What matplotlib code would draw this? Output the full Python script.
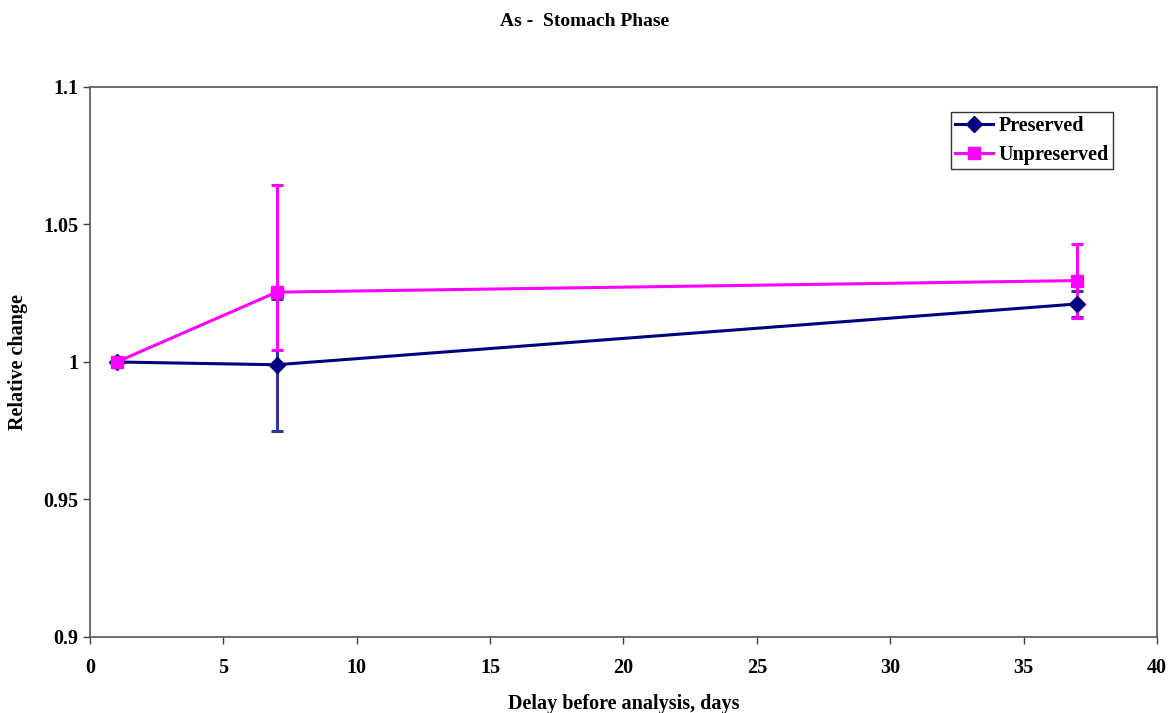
import matplotlib
matplotlib.use("Agg")
import matplotlib.pyplot as plt

# delay (days) and relative change for both sample sets
days = [1, 7, 37]

preserved = [1.0, 0.9990, 1.0211]
preserved_err = [0.0, 0.0240, 0.0048]

unpreserved = [1.0, 1.0254, 1.0296]
unpreserved_lo = [0.0, 0.0210, 0.0137]
unpreserved_hi = [0.0, 0.0390, 0.0133]

plt.rcParams['font.family'] = ['Liberation Serif', 'DejaVu Serif']
plt.rcParams['font.weight'] = 'bold'

fig = plt.figure(figsize=(11.69, 7.13), dpi=100)
ax = fig.add_axes([0.077, 0.1066, 0.9127, 0.7714])

navy = '#000080'
pink = '#FF00FF'

ax.errorbar(days[1:], preserved[1:], yerr=preserved_err[1:],
            fmt='none', ecolor='#333399', elinewidth=2.2, capsize=4.5, capthick=2.2, zorder=2)
ax.errorbar(days[1:], unpreserved[1:], yerr=[unpreserved_lo[1:], unpreserved_hi[1:]],
            fmt='none', ecolor=pink, elinewidth=2.2, capsize=4.5, capthick=2.2, zorder=2.5)

ax.plot(days, preserved, color=navy, lw=2.2, marker='D', ms=8, mfc=navy, mec=navy,
        label='Preserved', zorder=3)
ax.plot(days, unpreserved, color=pink, lw=2.2, marker='s', ms=9, mfc=pink, mec=pink,
        label='Unpreserved', zorder=4)

ax.set_xlim(0, 40)
ax.set_ylim(0.9, 1.1)
ax.set_xticks([0, 5, 10, 15, 20, 25, 30, 35, 40])
ax.set_yticks([0.9, 0.95, 1.0, 1.05, 1.1])
ax.set_yticklabels(['0.9', '0.95', '1', '1.05', '1.1'])
ax.tick_params(labelsize=14.5, length=5, width=1, direction='out', color='#404040')
ax.tick_params(axis='x', pad=10)
for lab in ax.get_xticklabels() + ax.get_yticklabels():
    lab.set_fontweight('bold')
for s in ax.spines.values():
    s.set_color('#555555')
    s.set_linewidth(1.2)

ax.set_xlabel('Delay before analysis, days', fontsize=14.5, fontweight='bold')
ax.set_ylabel('Relative change', fontsize=14.5, fontweight='bold')
ax.xaxis.set_label_coords(0.5, -0.1036)
ax.yaxis.set_label_coords(-0.058, 0.5)
fig.text(0.5, 0.97, 'As -  Stomach Phase', ha='center', va='center',
         fontsize=14, fontweight='bold')

leg = ax.legend(loc='upper right', bbox_to_anchor=(0.959, 0.955), borderaxespad=0,
                fontsize=14.5, frameon=True, fancybox=False, edgecolor='black',
                handlelength=1.9, borderpad=0.2, labelspacing=0.45, handletextpad=0.3)
leg.get_frame().set_linewidth(1.0)

fig.savefig('out.png', dpi=100)
